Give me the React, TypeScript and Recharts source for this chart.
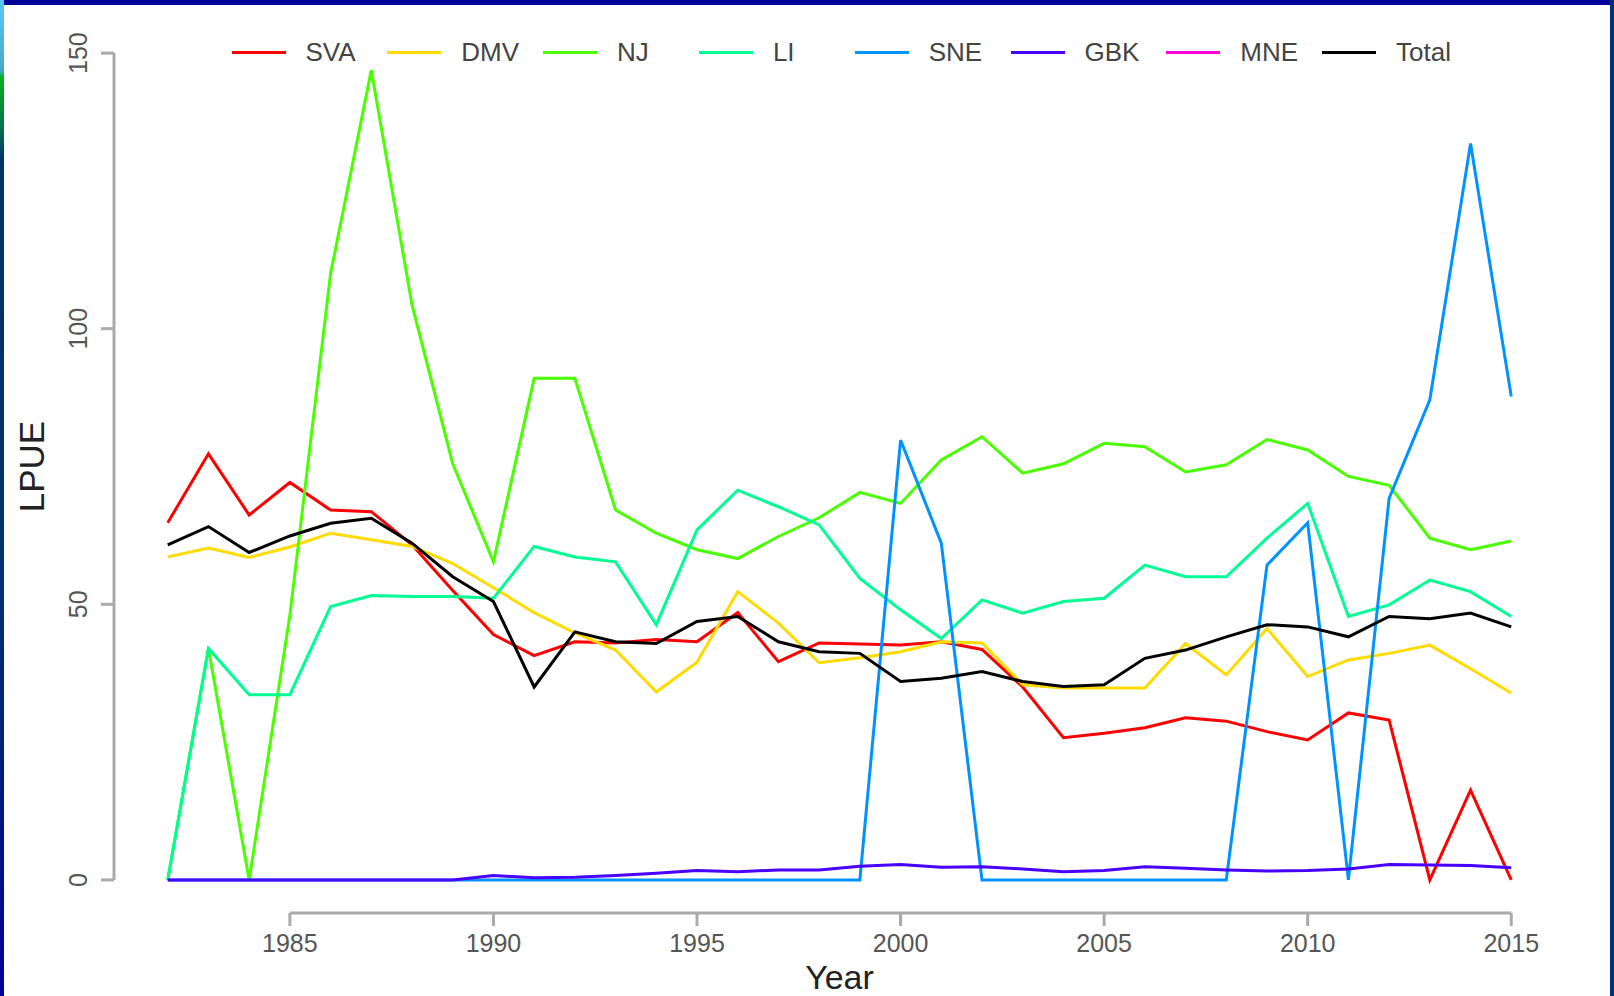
import React from 'react'
import { LineChart, Line, XAxis, YAxis, ReferenceLine, Label } from 'recharts'

const years = [1982, 1983, 1984, 1985, 1986, 1987, 1988, 1989, 1990, 1991, 1992, 1993, 1994, 1995, 1996, 1997, 1998, 1999, 2000, 2001, 2002, 2003, 2004, 2005, 2006, 2007, 2008, 2009, 2010, 2011, 2012, 2013, 2014, 2015]

const sva = [64.8, 77.3, 66.2, 72.1, 67.1, 66.8, 60.8, 52.5, 44.5, 40.7, 43.2, 43.0, 43.6, 43.2, 48.5, 39.6, 43.0, 42.8, 42.6, 43.2, 41.8, 35.0, 25.8, 26.6, 27.6, 29.4, 28.8, 26.9, 25.4, 30.3, 29.0, 0, 16.3, 0]
const dmv = [58.6, 60.2, 58.5, 60.4, 62.9, 61.7, 60.5, 57.4, 53.0, 48.5, 44.8, 41.7, 34.1, 39.5, 52.3, 46.6, 39.4, 40.3, 41.4, 43.2, 43.0, 35.4, 34.8, 34.8, 34.8, 42.9, 37.2, 45.6, 36.9, 39.9, 41.1, 42.6, 38.3, 33.9]
const nj = [0, 42, 0, 48, 110, 146.9, 104.3, 75.5, 57.7, 91, 91, 67.1, 62.9, 59.9, 58.3, 62.3, 65.7, 70.3, 68.3, 76.2, 80.4, 73.8, 75.5, 79.2, 78.6, 74, 75.3, 79.9, 78, 73.2, 71.6, 62, 59.9, 61.5]
const li = [0, 42, 33.6, 33.6, 49.6, 51.6, 51.4, 51.4, 51.1, 60.5, 58.6, 57.7, 46.3, 63.5, 70.7, 67.7, 64.4, 54.7, 49, 43.8, 50.8, 48.4, 50.5, 51.1, 57.1, 55, 55, 62, 68.3, 47.8, 49.9, 54.4, 52.3, 47.8]
const sne = [0, 0, 0, 0, 0, 0, 0, 0, 0, 0, 0, 0, 0, 0, 0, 0, 0, 0, 79.8, 61.1, 0, 0, 0, 0, 0, 0, 0, 57.1, 64.8, 0, 69.2, 87.1, 133.6, 87.7]
const gbk = [0, 0, 0, 0, 0, 0, 0, 0, 0.8, 0.4, 0.5, 0.8, 1.2, 1.7, 1.5, 1.8, 1.8, 2.5, 2.8, 2.3, 2.4, 2.0, 1.5, 1.7, 2.4, 2.1, 1.8, 1.6, 1.7, 2.0, 2.8, 2.7, 2.6, 2.2]
const mne = [null, null, null, null, null, null, null, null, null, null, null, null, null, null, null, null, null, null, null, null, null, null, null, null, null, null, null, null, null, null, null, null, null, null]
const total = [60.8, 64.1, 59.4, 62.4, 64.7, 65.6, 61.1, 55, 50.5, 35, 45, 43.2, 42.9, 46.9, 47.8, 43.2, 41.4, 41.1, 36, 36.6, 37.8, 36, 35.1, 35.4, 40.2, 41.7, 44.1, 46.3, 45.9, 44.1, 47.8, 47.4, 48.4, 45.9]

const xTicks = [1985, 1990, 1995, 2000, 2005, 2010, 2015]
const yTicks = [0, 50, 100, 150]

// R-style 4% padding around the data range
const xDomain = [1980.68, 2016.32]
const yDomain = [-6, 156]

const series = [
  { key: 'SVA', values: sva, color: '#FF0000' },
  { key: 'DMV', values: dmv, color: '#FFDB00' },
  { key: 'NJ', values: nj, color: '#49FF00' },
  { key: 'LI', values: li, color: '#00FF92' },
  { key: 'SNE', values: sne, color: '#0092FF' },
  { key: 'GBK', values: gbk, color: '#4900FF' },
  { key: 'MNE', values: mne, color: '#FF00DB' },
  { key: 'Total', values: total, color: '#000000' },
]

const data = years.map((year, i) => {
  const row: Record<string, number | null> = { year }
  series.forEach(s => { row[s.key] = s.values[i] })
  return row
})

const font = '"Liberation Sans", Arial, sans-serif'
const axisGrey = '#aaaaaa'

const YTick = ({ x, y, payload }: any) => (
  <text x={x} y={y} transform={`rotate(-90, ${x}, ${y})`} textAnchor="middle" dominantBaseline="central"
    fontSize={25} fontFamily={font} fill="#555">
    {payload.value}
  </text>
)

const LpueLabel = ({ viewBox }: any) => {
  const cx = 31
  const cy = viewBox.y + viewBox.height / 2
  return (
    <text x={cx} y={cy} transform={`rotate(-90, ${cx}, ${cy})`} textAnchor="middle" dominantBaseline="central"
      fontSize={35} fontFamily={font} fill="#222">
      LPUE
    </text>
  )
}

export default function App() {
  return (
    <div style={{ position: 'absolute', left: 0, top: 0, width: 1614, height: 996, background: '#fff', overflow: 'hidden' }}>
      {/* slide frame */}
      <div style={{ position: 'absolute', left: 0, top: 0, width: 1614, height: 5, background: '#000099' }} />
      <div style={{
        position: 'absolute', left: 0, top: 0, width: 4, height: 996,
        background: 'linear-gradient(to bottom, #5ac8fa 0px, #44aacc 70px, #00b020 78px, #007050 130px, #003366 160px, #003070 600px, #000099 996px)',
      }} />
      <div style={{ position: 'absolute', left: 1610, top: 0, width: 4, height: 996, background: '#00307a' }} />

      <LineChart width={1614} height={996} data={data} margin={{ top: 20, right: 49, bottom: 0, left: 0 }}>
        <XAxis dataKey="year" type="number" domain={xDomain} ticks={xTicks} allowDataOverflow
          axisLine={false} tickSize={13} tickMargin={8} height={83}
          tickLine={{ stroke: axisGrey, strokeWidth: 3 }}
          tick={{ fontSize: 25, fontFamily: font, fill: '#555' }}>
          <Label value="Year" position="insideBottom" offset={7} fontSize={34} fontFamily={font} fill="#222" />
        </XAxis>
        <YAxis type="number" domain={yDomain} ticks={yTicks} allowDataOverflow
          axisLine={false} tickSize={13} tickMargin={23} width={114}
          tickLine={{ stroke: axisGrey, strokeWidth: 3 }}
          tick={<YTick />}>
          <Label content={<LpueLabel />} />
        </YAxis>
        <ReferenceLine segment={[{ x: xDomain[0], y: 0 }, { x: xDomain[0], y: 150 }]} stroke={axisGrey} strokeWidth={3} ifOverflow="visible" />
        <ReferenceLine segment={[{ x: 1985, y: yDomain[0] }, { x: 2015, y: yDomain[0] }]} stroke={axisGrey} strokeWidth={3} ifOverflow="visible" />
        {series.map(s => (
          <Line key={s.key} dataKey={s.key} type="linear" stroke={s.color} strokeWidth={3}
            dot={false} activeDot={false} isAnimationActive={false} connectNulls={false} />
        ))}
      </LineChart>

      {/* horizontal legend, R style */}
      {series.map((s, i) => {
        const left = 231.5 + i * 155.8
        return (
          <React.Fragment key={s.key}>
            <div style={{ position: 'absolute', left, top: 50.5, width: 54, height: 3, background: s.color }} />
            <div style={{ position: 'absolute', left: left + 74, top: 36, height: 32, lineHeight: '32px', fontSize: 26, fontFamily: font, color: '#444' }}>
              {s.key}
            </div>
          </React.Fragment>
        )
      })}
    </div>
  )
}
